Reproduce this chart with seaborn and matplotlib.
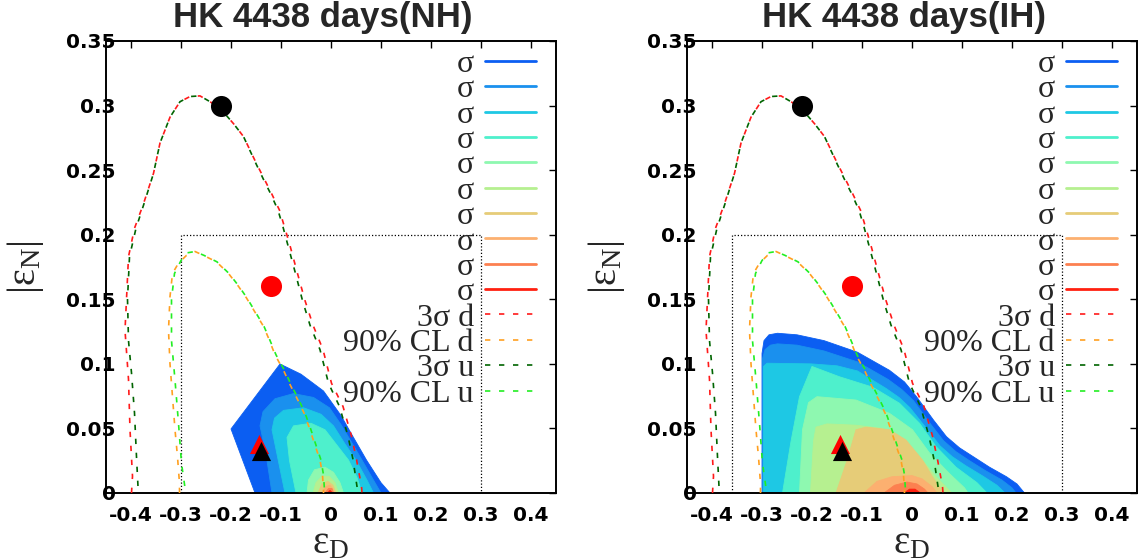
import matplotlib
matplotlib.use("Agg")
import matplotlib.pyplot as plt
from matplotlib.lines import Line2D
import pandas as pd
import seaborn as sns

# ---------------- data ----------------
titles = ["HK 4438 days(NH)", "HK 4438 days(IH)"]
xticks = [-0.4, -0.3, -0.2, -0.1, 0.0, 0.1, 0.2, 0.3, 0.4]
xtick_labels = ["-0.4", "-0.3", "-0.2", "-0.1", "0", "0.1", "0.2", "0.3", "0.4"]
yticks = [0, 0.05, 0.1, 0.15, 0.2, 0.25, 0.3, 0.35]
ytick_labels = ["0", "0.05", "0.1", "0.15", "0.2", "0.25", "0.3", "0.35"]

level_colors = ["#0b5ef2", "#1a90ee", "#1ec8e4", "#4ef0cc", "#8ef8b0",
                "#b6f090", "#e6cc78", "#fcb070", "#fc8050", "#ff2010"]
level_labels = ["σ"] * 10
curve_labels = ["3σ d", "90% CL d", "3σ u", "90% CL u"]
curve_colors = ["#ff1a1a", "#ffa020", "#006400", "#22ee22"]

# 3 sigma contour, d
out_d_x = [-0.399, -0.397, -0.402, -0.405, -0.412, -0.409, -0.405, -0.393, -0.375, -0.355,
           -0.342, -0.322, -0.302, -0.282, -0.262, -0.242, -0.222, -0.195, -0.175, -0.149,
           -0.132, -0.119, -0.103, -0.093, -0.083, -0.067, -0.052, -0.036, -0.016, 0.001,
           0.024, 0.041, 0.051, 0.061, 0.062]
out_d_y = [0.0, 0.013, 0.049, 0.088, 0.126, 0.150, 0.183, 0.205, 0.224, 0.2475,
           0.271, 0.291, 0.303, 0.307, 0.3075, 0.303, 0.298, 0.286, 0.276, 0.255,
           0.242, 0.232, 0.219, 0.206, 0.193, 0.170, 0.149, 0.130, 0.111, 0.085,
           0.067, 0.044, 0.026, 0.005, 0.0]
# 3 sigma contour, u
out_u_x = [-0.386, -0.386, -0.389, -0.393, -0.399, -0.405, -0.407, -0.403, -0.390, -0.374,
           -0.355, -0.342, -0.322, -0.302, -0.282, -0.262, -0.242, -0.222, -0.195, -0.175,
           -0.150, -0.134, -0.121, -0.106, -0.096, -0.087, -0.071, -0.057, -0.042, -0.022,
           -0.005, 0.017, 0.034, 0.044, 0.052, 0.053]
out_u_y = [0.0, 0.005, 0.028, 0.062, 0.093, 0.118, 0.150, 0.183, 0.205, 0.224,
           0.2475, 0.271, 0.291, 0.303, 0.307, 0.3075, 0.303, 0.298, 0.286, 0.276,
           0.255, 0.242, 0.232, 0.219, 0.206, 0.193, 0.170, 0.149, 0.130, 0.111,
           0.085, 0.067, 0.044, 0.026, 0.005, 0.0]
# 90% CL contour, d
in_d_x = [-0.303, -0.303, -0.307, -0.312, -0.317, -0.322, -0.325, -0.322, -0.317, -0.305,
          -0.289, -0.272, -0.255, -0.229, -0.205, -0.185, -0.169, -0.152, -0.135, -0.125,
          -0.112, -0.095, -0.082, -0.067, -0.054, -0.043, -0.032, -0.022, -0.017, -0.015,
          -0.015]
in_d_y = [0.0, 0.0075, 0.028, 0.049, 0.0745, 0.100, 0.126, 0.152, 0.170, 0.178,
          0.184, 0.187, 0.184, 0.179, 0.170, 0.160, 0.151, 0.140, 0.129, 0.120,
          0.107, 0.095, 0.084, 0.0725, 0.062, 0.050, 0.037, 0.0255, 0.014, 0.002,
          0.0]
# 90% CL contour, u
in_u_x = [-0.292, -0.292, -0.299, -0.305, -0.312, -0.319, -0.319, -0.313, -0.300, -0.287,
          -0.272, -0.254, -0.228, -0.204, -0.184, -0.168, -0.151, -0.134, -0.124, -0.110,
          -0.093, -0.080, -0.065, -0.052, -0.041, -0.030, -0.020, -0.015, -0.013, -0.013]
in_u_y = [0.0, 0.004, 0.023, 0.054, 0.0875, 0.118, 0.150, 0.170, 0.180, 0.186,
          0.187, 0.184, 0.179, 0.170, 0.160, 0.151, 0.140, 0.129, 0.120, 0.107,
          0.095, 0.084, 0.0725, 0.062, 0.050, 0.037, 0.0255, 0.014, 0.002, 0.0]

# allowed-region levels, NH
nh_lvl1 = [(-0.152, 0), (-0.200, 0.0496), (-0.102, 0.0999), (-0.060, 0.092), (-0.015, 0.079),
           (0.020, 0.060), (0.042, 0.045), (0.071, 0.0255), (0.100, 0.008), (0.118, 0)]
nh_lvl2 = [(-0.118, 0), (-0.130, 0.030), (-0.142, 0.052), (-0.136, 0.063), (-0.112, 0.073),
           (-0.075, 0.077), (-0.035, 0.074), (-0.003, 0.066), (0.020, 0.053), (0.040, 0.040),
           (0.062, 0.0255), (0.085, 0.010), (0.100, 0)]
nh_lvl3 = [(-0.092, 0), (-0.108, 0.030), (-0.118, 0.049), (-0.113, 0.058), (-0.095, 0.064),
           (-0.055, 0.066), (-0.020, 0.061), (0.005, 0.052), (0.028, 0.038), (0.050, 0.0255),
           (0.072, 0.010), (0.085, 0)]
nh_lvl4 = [(-0.070, 0), (-0.083, 0.025), (-0.088, 0.043), (-0.075, 0.052), (-0.040, 0.054),
           (-0.012, 0.049), (0.010, 0.038), (0.035, 0.0255), (0.052, 0.012), (0.062, 0)]
nh_lvl5 = [(-0.048, 0), (-0.045, 0.010), (-0.033, 0.018), (-0.012, 0.020), (0.005, 0.016),
           (0.018, 0.008), (0.025, 0)]
nh_lvl6 = [(-0.036, 0), (-0.030, 0.008), (-0.018, 0.013), (-0.004, 0.013), (0.008, 0.008),
           (0.015, 0)]
nh_lvl7 = [(-0.026, 0), (-0.018, 0.007), (-0.006, 0.009), (0.004, 0.006), (0.010, 0)]
nh_lvl8 = [(-0.018, 0), (-0.010, 0.005), (-0.002, 0.006), (0.004, 0.003), (0.007, 0)]
nh_lvl9 = [(-0.012, 0), (-0.005, 0.0035), (0.002, 0.0035), (0.005, 0)]
nh_lvl10 = [(-0.007, 0), (-0.002, 0.002), (0.003, 0)]

# allowed-region levels, IH
ih_lvl1 = [(-0.300, 0), (-0.300, 0.108), (-0.296, 0.118), (-0.286, 0.1225), (-0.269, 0.1237),
           (-0.230, 0.1225), (-0.176, 0.118), (-0.109, 0.109), (-0.045, 0.095), (-0.015, 0.086),
           (0.009, 0.0746), (0.043, 0.0565), (0.069, 0.0436), (0.095, 0.035), (0.123, 0.028),
           (0.155, 0.020), (0.189, 0.0126), (0.210, 0.007), (0.225, 0)]
ih_lvl2 = [(-0.299, 0), (-0.299, 0.104), (-0.294, 0.111), (-0.283, 0.1145), (-0.269, 0.1155),
           (-0.230, 0.1145), (-0.176, 0.110), (-0.109, 0.1015), (-0.048, 0.088), (-0.020, 0.080),
           (0.003, 0.0715), (0.037, 0.0535), (0.063, 0.0405), (0.088, 0.032), (0.115, 0.025),
           (0.146, 0.0175), (0.180, 0.010), (0.200, 0.004), (0.208, 0)]
ih_lvl3 = [(-0.297, 0), (-0.297, 0.098), (-0.290, 0.1005), (-0.202, 0.100), (-0.150, 0.0985),
           (-0.109, 0.0945), (-0.052, 0.081), (-0.026, 0.074), (-0.004, 0.066), (0.030, 0.0495),
           (0.056, 0.0365), (0.081, 0.028), (0.108, 0.021), (0.140, 0.0135), (0.170, 0.006),
           (0.186, 0)]
ih_lvl4 = [(-0.259, 0), (-0.242, 0.040), (-0.225, 0.0746), (-0.200, 0.098), (-0.145, 0.090),
           (-0.079, 0.082), (-0.025, 0.0695), (0.015, 0.054), (0.048, 0.036), (0.088, 0.020),
           (0.130, 0.008), (0.150, 0)]
ih_lvl5 = [(-0.225, 0), (-0.219, 0.049), (-0.207, 0.070), (-0.190, 0.0746), (-0.112, 0.072),
           (-0.045, 0.0617), (0.001, 0.049), (0.035, 0.031), (0.075, 0.015), (0.105, 0.004),
           (0.112, 0)]
ih_lvl6 = [(-0.203, 0), (-0.197, 0.040), (-0.192, 0.051), (-0.170, 0.0535), (-0.112, 0.0525),
           (-0.060, 0.050), (-0.025, 0.0436), (0.015, 0.028), (0.048, 0.0126), (0.072, 0.003),
           (0.080, 0)]
ih_lvl7 = [(-0.152, 0), (-0.130, 0.025), (-0.112, 0.049), (-0.092, 0.051), (-0.045, 0.049),
           (-0.012, 0.041), (0.021, 0.0255), (0.041, 0.0126), (0.058, 0.003), (0.062, 0)]
ih_lvl8 = [(-0.096, 0), (-0.070, 0.009), (-0.040, 0.0126), (0.000, 0.0135), (0.020, 0.011),
           (0.040, 0.005), (0.050, 0)]
ih_lvl9 = [(-0.056, 0), (-0.035, 0.006), (-0.010, 0.0085), (0.010, 0.007), (0.025, 0.003),
           (0.032, 0)]
ih_lvl10 = [(-0.016, 0), (-0.005, 0.003), (0.006, 0.003), (0.017, 0)]

# dotted box
nh_box_x = [-0.30, -0.30, 0.30, 0.30]
ih_box_x = [-0.36, -0.36, 0.30, 0.30]
box_y = [0.0, 0.20, 0.20, 0.0]

# points
circle_black = (-0.221, 0.300)
circle_red = (-0.121, 0.160)
tri_red = (-0.145, 0.038)
tri_black = (-0.140, 0.0323)

nh_levels = [nh_lvl1, nh_lvl2, nh_lvl3, nh_lvl4, nh_lvl5, nh_lvl6, nh_lvl7, nh_lvl8, nh_lvl9, nh_lvl10]
ih_levels = [ih_lvl1, ih_lvl2, ih_lvl3, ih_lvl4, ih_lvl5, ih_lvl6, ih_lvl7, ih_lvl8, ih_lvl9, ih_lvl10]

# ---------------- style ----------------
sns.set_style("white")
plt.rcParams["font.family"] = ["Liberation Sans", "DejaVu Sans"]
plt.rcParams["axes.unicode_minus"] = False
plt.rcParams["mathtext.fontset"] = "custom"
plt.rcParams["mathtext.rm"] = "Liberation Serif"
plt.rcParams["mathtext.it"] = "Liberation Serif:italic"
plt.rcParams["mathtext.bf"] = "Liberation Serif:bold"

fig = plt.figure(figsize=(11.48, 5.6), dpi=100)
ax1 = fig.add_axes([106 / 1148, 67 / 560, 450 / 1148, 452 / 560])
ax2 = fig.add_axes([687 / 1148, 67 / 560, 450 / 1148, 452 / 560])

curves = [(out_d_x, out_d_y, 0), (in_d_x, in_d_y, 1), (out_u_x, out_u_y, 2), (in_u_x, in_u_y, 3)]
dash_offsets = [0.0, 0.0, 4.2, 4.2]

for ax, title, levels, box_x in [(ax1, titles[0], nh_levels, nh_box_x),
                                 (ax2, titles[1], ih_levels, ih_box_x)]:
    for poly, col in zip(levels, level_colors):
        xs = [p[0] for p in poly]
        ys = [p[1] for p in poly]
        ax.fill(xs, ys, facecolor=col, edgecolor=col, lw=0.6, zorder=1)

    ax.plot(box_x, box_y, color="black", lw=0.9, linestyle=(0, (1, 1.6)), zorder=2)

    for (cx, cy, k) in curves:
        df = pd.DataFrame({"x": cx, "y": cy})
        sns.lineplot(data=df, x="x", y="y", sort=False, estimator=None, ax=ax,
                     color=curve_colors[k], lw=1.2, zorder=3)
        ax.lines[-1].set_linestyle((dash_offsets[k], (3.2, 5.2)))

    sns.scatterplot(x=[circle_black[0]], y=[circle_black[1]], ax=ax, color="black",
                    marker="o", s=230, linewidth=0, zorder=5, legend=False)
    sns.scatterplot(x=[circle_red[0]], y=[circle_red[1]], ax=ax, color="#ff0000",
                    marker="o", s=230, linewidth=0, zorder=5, legend=False)
    sns.scatterplot(x=[tri_red[0]], y=[tri_red[1]], ax=ax, color="#ff0000",
                    marker="^", s=190, linewidth=0, zorder=6, legend=False)
    sns.scatterplot(x=[tri_black[0]], y=[tri_black[1]], ax=ax, color="black",
                    marker="^", s=190, linewidth=0, zorder=7, legend=False)

    ax.set_xlim(-0.45, 0.45)
    ax.set_ylim(0, 0.35)
    ax.set_xticks(xticks, xtick_labels)
    ax.set_yticks(yticks, ytick_labels)
    ax.tick_params(direction="in", length=5, width=1, top=True, right=True,
                   labelsize=14.5, colors="black")
    ax.tick_params(axis="y", pad=-7)
    ax.tick_params(axis="x", pad=9.5)
    for lab in ax.get_xticklabels() + ax.get_yticklabels():
        lab.set_fontweight("bold")
        lab.set_family("DejaVu Sans")
    for sp in ax.spines.values():
        sp.set_linewidth(1.4)
        sp.set_color("black")

    ax.set_title(title, fontsize=25, fontweight="bold", pad=10, x=0.482)
    ax.set_xlabel(r"$\mathrm{ε_D}$", fontsize=28)
    ax.set_ylabel(r"$|\mathrm{ε_N}|$", fontsize=29)
    ax.xaxis.set_label_coords(0.5, -0.071)
    ax.yaxis.set_label_coords(-0.133, 0.5)

    handles = [Line2D([0], [0], color=c, lw=2) for c in level_colors]
    handles += [Line2D([0], [0], color=c, lw=1.2, linestyle=(0, (3.2, 5.2))) for c in curve_colors]
    labels = level_labels + curve_labels
    ax.legend(handles, labels, loc="upper right", bbox_to_anchor=(0.956, 0.981),
              markerfirst=False, frameon=False, handlelength=1.6, handletextpad=0.35,
              labelspacing=-0.125, borderpad=0, borderaxespad=0,
              prop={"family": "Liberation Serif", "size": 23})

fig.savefig("out.png", dpi=100)
